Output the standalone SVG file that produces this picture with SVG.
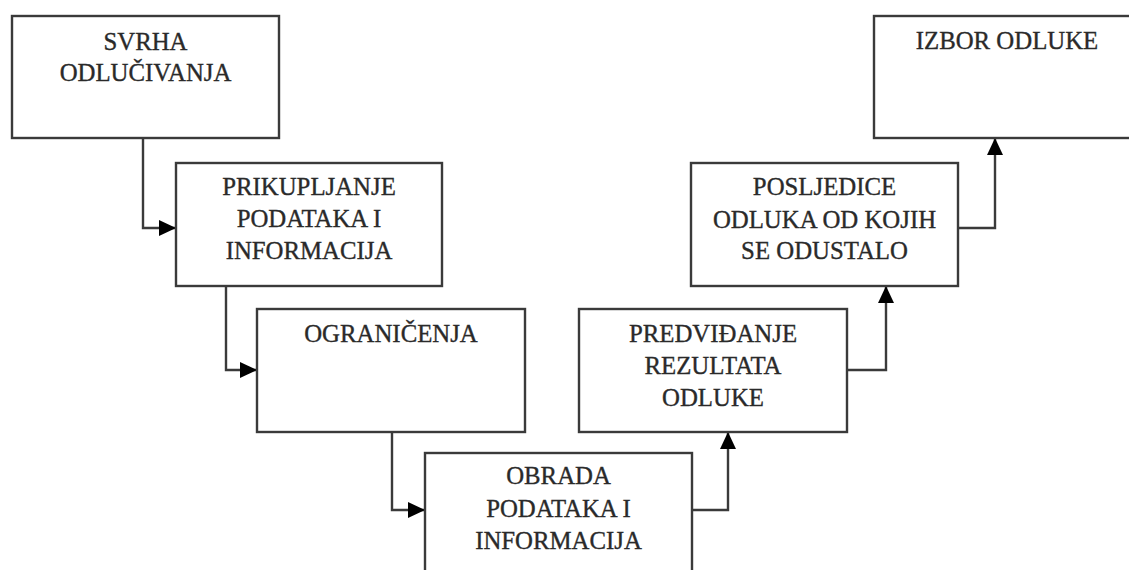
<svg xmlns="http://www.w3.org/2000/svg" width="1129" height="570" viewBox="0 0 1129 570">
<style>
.box{fill:#fff;stroke:#3a3a3a;stroke-width:2.4}
.t{font-family:"Liberation Serif","Times New Roman",serif;font-size:24.8px;fill:#2a2a2a;stroke:#2a2a2a;stroke-width:0.35;text-anchor:middle}
.c{fill:none;stroke:#3a3a3a;stroke-width:2.4}
</style>
<defs>
<marker id="ah" markerUnits="userSpaceOnUse" markerWidth="18" markerHeight="18" refX="17" refY="8" orient="auto">
<path d="M0,0 L17,8 L0,16 Z" fill="#000"/>
</marker>
</defs>
<rect width="1129" height="570" fill="#fff"/>
<g id="connectors">
<path class="c" d="M143,138 V228 H176" marker-end="url(#ah)"/>
<path class="c" d="M226,286 V370 H257" marker-end="url(#ah)"/>
<path class="c" d="M392,432 V510 H425" marker-end="url(#ah)"/>
<path class="c" d="M692,510 H728 V432" marker-end="url(#ah)"/>
<path class="c" d="M847,370 H886 V286" marker-end="url(#ah)"/>
<path class="c" d="M958,228 H995 V138" marker-end="url(#ah)"/>
</g>
<g id="n1"><rect class="box" x="12" y="16" width="267" height="122"/>
<text class="t" x="145.5" y="50">SVRHA</text><text class="t" x="145.5" y="81">ODLUČIVANJA</text></g>
<g id="n2"><rect class="box" x="176" y="163" width="266" height="123"/>
<text class="t" x="309" y="195">PRIKUPLJANJE</text><text class="t" x="309" y="227">PODATAKA I</text><text class="t" x="309" y="259">INFORMACIJA</text></g>
<g id="n3"><rect class="box" x="257" y="309" width="268" height="123"/>
<text class="t" x="391" y="342">OGRANIČENJA</text></g>
<g id="n4"><rect class="box" x="425" y="453" width="267" height="130"/>
<text class="t" x="558.5" y="484">OBRADA</text><text class="t" x="558.5" y="517">PODATAKA I</text><text class="t" x="558.5" y="549">INFORMACIJA</text></g>
<g id="n5"><rect class="box" x="579" y="309" width="268" height="123"/>
<text class="t" x="713" y="342">PREDVIĐANJE</text><text class="t" x="713" y="374">REZULTATA</text><text class="t" x="713" y="406">ODLUKE</text></g>
<g id="n6"><rect class="box" x="691" y="163" width="267" height="123"/>
<text class="t" x="824.5" y="195">POSLJEDICE</text><text class="t" x="824.5" y="228">ODLUKA OD KOJIH</text><text class="t" x="824.5" y="259">SE ODUSTALO</text></g>
<g id="n7"><rect class="box" x="874" y="16" width="266" height="122"/>
<text class="t" x="1007" y="49">IZBOR ODLUKE</text></g>
</svg>
